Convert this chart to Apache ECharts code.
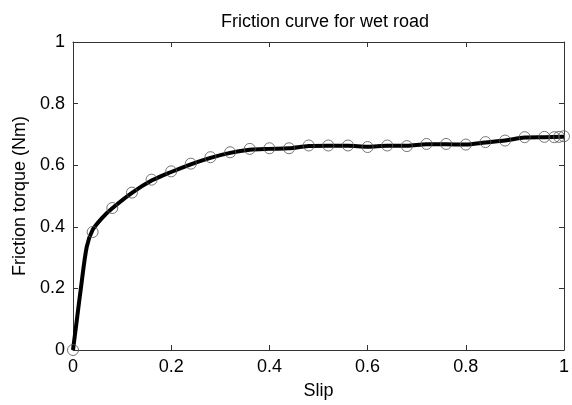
<!DOCTYPE html>
<html>
<head>
<meta charset="utf-8">
<script src="https://cdn.jsdelivr.net/npm/echarts@6/dist/echarts.min.js"></script>
<style>
  html, body { margin: 0; padding: 0; background: #fff; }
  #main { width: 572px; height: 405px; }
</style>
</head>
<body>
<div id="main"></div>
<script>
// measured samples (circles)
var slip = [0, 0.04, 0.08, 0.12, 0.16, 0.20, 0.24, 0.28, 0.32, 0.36, 0.40, 0.44, 0.48, 0.52, 0.56, 0.60,
  0.64, 0.68, 0.72, 0.76, 0.80, 0.84, 0.88, 0.92, 0.96, 0.98, 0.99, 1.0];
var torque = [0, 0.383, 0.461, 0.511, 0.553, 0.580, 0.605, 0.626, 0.642, 0.653, 0.655, 0.655, 0.664, 0.664, 0.664, 0.659,
  0.664, 0.662, 0.669, 0.669, 0.667, 0.675, 0.680, 0.691, 0.692, 0.691, 0.692, 0.694];
// fitted curve (thick line)
var slipCurve = [0, 0.008, 0.016, 0.028, 0.04, 0.06, 0.08, 0.12, 0.16, 0.20, 0.24, 0.28, 0.32, 0.36, 0.40, 0.44, 0.48, 0.52, 0.56, 0.60,
  0.64, 0.68, 0.72, 0.76, 0.80, 0.84, 0.88, 0.92, 0.96, 1.0];
var torqueCurve = [0, 0.10, 0.20, 0.335, 0.39, 0.43, 0.46, 0.51, 0.55, 0.578, 0.603, 0.624, 0.640, 0.650, 0.653, 0.655, 0.662, 0.663, 0.663, 0.660,
  0.663, 0.663, 0.668, 0.668, 0.667, 0.674, 0.680, 0.690, 0.691, 0.692];

var font = 'Liberation Sans, Arial, sans-serif';
var chart = echarts.init(document.getElementById('main'), null, { renderer: 'canvas' });

var tickStyle = { show: true, inside: true, length: 5, lineStyle: { color: '#333', width: 1 } };
var lineStyle = { show: true, onZero: false, lineStyle: { color: '#333', width: 1 } };

var options = {
  animation: false,
  backgroundColor: '#fff',
  title: {
    text: 'Friction curve for wet road',
    left: 320, top: 8, textAlign: 'center',
    textStyle: { fontFamily: font, fontSize: 18, fontWeight: 'normal', color: '#000' }
  },
  grid: { left: 73, right: 5, top: 42, bottom: 50 },
  xAxis: [{
    type: 'value', min: 0, max: 1, interval: 0.2,
    name: 'Slip', nameLocation: 'middle', nameGap: 32,
    nameTextStyle: { fontFamily: font, fontSize: 18, color: '#000' },
    axisLine: lineStyle, axisTick: tickStyle, splitLine: { show: false },
    axisLabel: { fontFamily: font, fontSize: 18, color: '#000', margin: 8,
      formatter: function (v) { return String(+v.toFixed(1)); } }
  }, {
    type: 'value', min: 0, max: 1, interval: 0.2, position: 'top',
    axisLine: lineStyle, axisTick: tickStyle, splitLine: { show: false }, axisLabel: { show: false }
  }],
  yAxis: [{
    type: 'value', min: 0, max: 1, interval: 0.2,
    name: 'Friction torque (Nm)', nameLocation: 'middle', nameGap: 43,
    nameTextStyle: { fontFamily: font, fontSize: 18, color: '#000' },
    axisLine: lineStyle, axisTick: tickStyle, splitLine: { show: false },
    axisLabel: { fontFamily: font, fontSize: 18, color: '#000', margin: 8,
      formatter: function (v) { return String(+v.toFixed(1)); } }
  }, {
    type: 'value', min: 0, max: 1, interval: 0.2, position: 'right',
    axisLine: lineStyle, axisTick: tickStyle, splitLine: { show: false }, axisLabel: { show: false }
  }],
  series: [{
    name: 'curve', type: 'line', smooth: 0.3, showSymbol: false,
    data: slipCurve.map(function (s, i) { return [s, torqueCurve[i]]; }),
    lineStyle: { color: '#000', width: 4 }, z: 2
  }, {
    name: 'samples', type: 'scatter', symbol: 'circle', symbolSize: 11,
    data: slip.map(function (s, i) { return [s, torque[i]]; }),
    itemStyle: { color: 'rgba(0,0,0,0)', borderColor: '#555', borderWidth: 1 }, z: 3
  }]
};
chart.setOption(options);
</script>
</body>
</html>
